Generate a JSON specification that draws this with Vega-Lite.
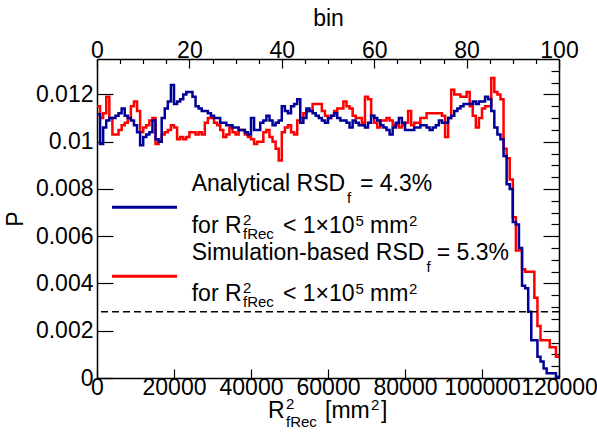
{
  "$schema": "https://vega.github.io/schema/vega-lite/v6.json",
  "width": 462,
  "height": 319,
  "autosize": {"type": "none"},
  "padding": {"left": 97, "top": 59, "right": 38, "bottom": 61},
  "background": "white",
  "config": {
    "view": {"stroke": null},
    "font": "Liberation Sans",
    "axis": {
      "domainColor": "black", "domainWidth": 1.5,
      "tickColor": "black", "tickWidth": 1.2,
      "labelFont": "Liberation Sans", "labelFontSize": 23, "labelColor": "black",
      "titleFont": "Liberation Sans", "titleFontSize": 23, "titleFontWeight": "normal", "titleColor": "black",
      "grid": false, "labelOverlap": false, "labelBound": false, "labelFlush": false
    }
  },
  "datasets": {
    "hist": [
      {"x":0,"b":0.01116,"r":0.0115},{"x":800,"b":0.0099,"r":0.0110},{"x":1600,"b":0.0106,"r":0.0112},{"x":2400,"b":0.0109,"r":0.0119},
      {"x":3200,"b":0.0110,"r":0.0110},{"x":4000,"b":0.0110,"r":0.0103},{"x":4800,"b":0.0111,"r":0.0103},{"x":5600,"b":0.0112,"r":0.0105},
      {"x":6400,"b":0.0114,"r":0.0107},{"x":7200,"b":0.0111,"r":0.0108},{"x":8000,"b":0.0110,"r":0.0110},{"x":8800,"b":0.0109,"r":0.0115},
      {"x":9600,"b":0.0107,"r":0.0117},{"x":10400,"b":0.0104,"r":0.0113},{"x":11200,"b":0.00985,"r":0.0104},{"x":12000,"b":0.0102,"r":0.0106},
      {"x":12800,"b":0.0103,"r":0.0107},{"x":13600,"b":0.0104,"r":0.0109},{"x":14400,"b":0.0109,"r":0.0110},{"x":15200,"b":0.0101,"r":0.0099},
      {"x":16000,"b":0.0100,"r":0.0100},{"x":16800,"b":0.0110,"r":0.0103},{"x":17600,"b":0.0114,"r":0.0104},{"x":18400,"b":0.0117,"r":0.0105},
      {"x":19200,"b":0.0124,"r":0.0107},{"x":20000,"b":0.0116,"r":0.0106},{"x":20800,"b":0.0117,"r":0.0101},{"x":21600,"b":0.0118,"r":0.0102},
      {"x":22400,"b":0.0120,"r":0.0101},{"x":23200,"b":0.0121,"r":0.0102},{"x":24000,"b":0.0121,"r":0.0104},{"x":24800,"b":0.0119,"r":0.0104},
      {"x":25600,"b":0.0115,"r":0.0103},{"x":26400,"b":0.0114,"r":0.0104},{"x":27200,"b":0.0113,"r":0.0103},{"x":28000,"b":0.0113,"r":0.0108},
      {"x":28800,"b":0.0112,"r":0.0110},{"x":29600,"b":0.0111,"r":0.0110},{"x":30400,"b":0.0110,"r":0.0108},{"x":31200,"b":0.0110,"r":0.0107},
      {"x":32000,"b":0.0108,"r":0.0105},{"x":32800,"b":0.0108,"r":0.0102},{"x":33600,"b":0.0107,"r":0.0103},{"x":34400,"b":0.0107,"r":0.0106},
      {"x":35200,"b":0.0106,"r":0.0104},{"x":36000,"b":0.0106,"r":0.0103},{"x":36800,"b":0.0105,"r":0.0105},{"x":37600,"b":0.0105,"r":0.0105},
      {"x":38400,"b":0.0104,"r":0.0103},{"x":39200,"b":0.0103,"r":0.0102},{"x":40000,"b":0.0110,"r":0.0101},{"x":40800,"b":0.0105,"r":0.0099},
      {"x":41600,"b":0.0105,"r":0.0100},{"x":42400,"b":0.0108,"r":0.0100},{"x":43200,"b":0.0109,"r":0.0104},{"x":44000,"b":0.0111,"r":0.0105},
      {"x":44800,"b":0.0109,"r":0.0102},{"x":45600,"b":0.0107,"r":0.0100},{"x":46400,"b":0.0108,"r":0.0097},{"x":47200,"b":0.0109,"r":0.0092},
      {"x":48000,"b":0.0115,"r":0.0104},{"x":48800,"b":0.0113,"r":0.0106},{"x":49600,"b":0.0112,"r":0.0107},{"x":50400,"b":0.0115,"r":0.0104},
      {"x":51200,"b":0.0116,"r":0.0103},{"x":52000,"b":0.0118,"r":0.0109},{"x":52800,"b":0.0108,"r":0.0110},{"x":53600,"b":0.0110,"r":0.0112},
      {"x":54400,"b":0.0114,"r":0.0113},{"x":55200,"b":0.0113,"r":0.0113},{"x":56000,"b":0.0112,"r":0.0116},{"x":56800,"b":0.0111,"r":0.0116},
      {"x":57600,"b":0.0110,"r":0.0116},{"x":58400,"b":0.0109,"r":0.0113},{"x":59200,"b":0.0108,"r":0.0111},{"x":60000,"b":0.0110,"r":0.0110},
      {"x":60800,"b":0.0111,"r":0.0111},{"x":61600,"b":0.0112,"r":0.0113},{"x":62400,"b":0.0110,"r":0.0114},{"x":63200,"b":0.0109,"r":0.0114},
      {"x":64000,"b":0.0109,"r":0.0117},{"x":64800,"b":0.0108,"r":0.0115},{"x":65600,"b":0.0106,"r":0.0114},{"x":66400,"b":0.0109,"r":0.0111},
      {"x":67200,"b":0.0108,"r":0.0110},{"x":68000,"b":0.0107,"r":0.0110},{"x":68800,"b":0.0107,"r":0.0108},{"x":69600,"b":0.0106,"r":0.0119},
      {"x":70400,"b":0.0108,"r":0.0118},{"x":71200,"b":0.0111,"r":0.0111},{"x":72000,"b":0.0110,"r":0.0108},{"x":72800,"b":0.0109,"r":0.0106},
      {"x":73600,"b":0.0107,"r":0.0109},{"x":74400,"b":0.0106,"r":0.0109},{"x":75200,"b":0.0105,"r":0.0110},{"x":76000,"b":0.0103,"r":0.0109},
      {"x":76800,"b":0.0106,"r":0.0107},{"x":77600,"b":0.0108,"r":0.0107},{"x":78400,"b":0.0110,"r":0.0106},{"x":79200,"b":0.0108,"r":0.0107},
      {"x":80000,"b":0.0105,"r":0.0108},{"x":80800,"b":0.0105,"r":0.0113},{"x":81600,"b":0.0105,"r":0.0107},{"x":82400,"b":0.0106,"r":0.0108},
      {"x":83200,"b":0.0106,"r":0.0108},{"x":84000,"b":0.0107,"r":0.0110},{"x":84800,"b":0.0107,"r":0.0110},{"x":85600,"b":0.0106,"r":0.0112},
      {"x":86400,"b":0.0105,"r":0.0112},{"x":87200,"b":0.0106,"r":0.0112},{"x":88000,"b":0.0107,"r":0.0112},{"x":88800,"b":0.0109,"r":0.0112},
      {"x":89600,"b":0.0108,"r":0.0111},{"x":90400,"b":0.0108,"r":0.0102},{"x":91200,"b":0.0110,"r":0.0110},{"x":92000,"b":0.0111,"r":0.0122},
      {"x":92800,"b":0.0113,"r":0.0120},{"x":93600,"b":0.0114,"r":0.0120},{"x":94400,"b":0.0115,"r":0.0119},{"x":95200,"b":0.0116,"r":0.0119},
      {"x":96000,"b":0.0116,"r":0.0121},{"x":96800,"b":0.0116,"r":0.0115},{"x":97600,"b":0.0117,"r":0.0111},{"x":98400,"b":0.0116,"r":0.0106},
      {"x":99200,"b":0.0117,"r":0.0110},{"x":100000,"b":0.0117,"r":0.0114},{"x":100800,"b":0.0119,"r":0.0115},{"x":101600,"b":0.0118,"r":0.0115},
      {"x":102400,"b":0.0113,"r":0.0127},{"x":103200,"b":0.0106,"r":0.0121},{"x":104000,"b":0.0103,"r":0.0120},{"x":104800,"b":0.0101,"r":0.0118},
      {"x":105600,"b":0.0094,"r":0.0097},{"x":106400,"b":0.0082,"r":0.0093},{"x":107200,"b":0.0080,"r":0.0084},{"x":108000,"b":0.0066,"r":0.0068},
      {"x":108800,"b":0.0065,"r":0.0054},{"x":109600,"b":0.0055,"r":0.0054},{"x":110400,"b":0.0039,"r":0.0046},{"x":111200,"b":0.0038,"r":0.0045},
      {"x":112000,"b":0.0028,"r":0.0045},{"x":112800,"b":0.0016,"r":0.0045},{"x":113600,"b":0.0016,"r":0.0034},{"x":114400,"b":0.0009,"r":0.0022},
      {"x":115200,"b":0.0007,"r":0.0016},{"x":116000,"b":0.0004,"r":0.0016},{"x":116800,"b":0.0002,"r":0.0016},{"x":117600,"b":0.0002,"r":0.0013},
      {"x":118400,"b":0.0002,"r":0.0013},{"x":119200,"b":0.00005,"r":0.0009},{"x":120000,"b":0.00005,"r":0.0009}
    ],
    "ref": [{"p": 0.0028}],
    "lines": [
      {"x": 3900, "x2": 20800, "y": 0.00723, "s": "b"},
      {"x": 3900, "x2": 20800, "y": 0.00431, "s": "r"}
    ],
    "big": [
      {"x": 24597, "y": 0.007907, "t": "Analytical RSD"},
      {"x": 68300, "y": 0.007907, "t": "= 4.3%"},
      {"x": 24597, "y": 0.006131, "t": "for R"},
      {"x": 48310, "y": 0.006131, "t": "< 1×10"},
      {"x": 70910, "y": 0.006131, "t": "mm"},
      {"x": 24597, "y": 0.004989, "t": "Simulation-based RSD"},
      {"x": 88230, "y": 0.004989, "t": "= 5.3%"},
      {"x": 24597, "y": 0.003256, "t": "for R"},
      {"x": 48310, "y": 0.003256, "t": "< 1×10"},
      {"x": 70910, "y": 0.003256, "t": "mm"},
      {"x": 44416, "y": -0.001691, "t": "R"},
      {"x": 59220, "y": -0.001691, "t": "[mm"},
      {"x": 73770, "y": -0.001691, "t": "]"}
    ],
    "small": [
      {"x": 64940, "y": 0.0074, "t": "f"},
      {"x": 37920, "y": 0.00648, "t": "2"},
      {"x": 37920, "y": 0.00588, "t": "fRec"},
      {"x": 67150, "y": 0.006434, "t": "5"},
      {"x": 81030, "y": 0.006434, "t": "2"},
      {"x": 85580, "y": 0.004482, "t": "f"},
      {"x": 37920, "y": 0.0036, "t": "2"},
      {"x": 37920, "y": 0.00300, "t": "fRec"},
      {"x": 67150, "y": 0.003552, "t": "5"},
      {"x": 81030, "y": 0.003552, "t": "2"},
      {"x": 49090, "y": -0.00131, "t": "2"},
      {"x": 49090, "y": -0.00209, "t": "fRec"},
      {"x": 71170, "y": -0.001353, "t": "2"}
    ],
    "top": [{"bin": 0, "v": 0}, {"bin": 100, "v": 0.0135}]
  },
  "layer": [
    {
      "layer": [
        {
          "data": {"name": "hist"},
          "mark": {"type": "line", "interpolate": "step-after", "color": "#ff0000", "strokeWidth": 2.5},
          "encoding": {
            "x": {
              "field": "x", "type": "quantitative",
              "scale": {"domain": [0, 120000], "nice": false, "zero": false},
              "axis": {
                "orient": "bottom", "title": null,
                "values": [0,5000,10000,15000,20000,25000,30000,35000,40000,45000,50000,55000,60000,65000,70000,75000,80000,85000,90000,95000,100000,105000,110000,115000,120000],
                "labelExpr": "datum.value % 20000 === 0 ? format(datum.value, 'd') : ''",
                "tickSize": {"condition": {"test": "datum.value % 20000 === 0", "value": -9}, "value": -4.5},
                "labelPadding": 7
              }
            },
            "y": {
              "field": "r", "type": "quantitative",
              "scale": {"domain": [0, 0.0135], "nice": false, "zero": false},
              "axis": {
                "orient": "left", "title": "P", "titlePadding": 8,
                "values": [0,0.0005,0.001,0.0015,0.002,0.0025,0.003,0.0035,0.004,0.0045,0.005,0.0055,0.006,0.0065,0.007,0.0075,0.008,0.0085,0.009,0.0095,0.01,0.0105,0.011,0.0115,0.012,0.0125,0.013],
                "labelExpr": "abs(datum.value/0.002 - round(datum.value/0.002)) < 0.001 ? format(datum.value, '~g') : ''",
                "tickSize": {"condition": {"test": "abs(datum.value/0.002 - round(datum.value/0.002)) < 0.001", "value": -16}, "value": -8},
                "labelPadding": 20
              }
            }
          }
        },
        {
          "data": {"name": "hist"},
          "mark": {"type": "line", "interpolate": "step-after", "color": "#000099", "strokeWidth": 2.5},
          "encoding": {
            "x": {"field": "x", "type": "quantitative"},
            "y": {"field": "b", "type": "quantitative"}
          }
        },
        {
          "data": {"name": "ref"},
          "mark": {"type": "rule", "strokeDash": [7, 4], "strokeWidth": 1.5, "color": "black"},
          "encoding": {"y": {"field": "p", "type": "quantitative"}}
        },
        {
          "data": {"name": "lines"},
          "mark": {"type": "rule", "strokeWidth": 3},
          "encoding": {
            "x": {"field": "x", "type": "quantitative"},
            "x2": {"field": "x2"},
            "y": {"field": "y", "type": "quantitative"},
            "color": {"field": "s", "type": "nominal", "scale": {"domain": ["b", "r"], "range": ["#000099", "#ff0000"]}, "legend": null}
          }
        },
        {
          "data": {"name": "big"},
          "mark": {"type": "text", "align": "left", "baseline": "alphabetic", "font": "Liberation Sans", "fontSize": 23, "color": "black"},
          "encoding": {
            "x": {"field": "x", "type": "quantitative"},
            "y": {"field": "y", "type": "quantitative"},
            "text": {"field": "t"}
          }
        },
        {
          "data": {"name": "small"},
          "mark": {"type": "text", "align": "left", "baseline": "alphabetic", "font": "Liberation Sans", "fontSize": 15, "color": "black"},
          "encoding": {
            "x": {"field": "x", "type": "quantitative"},
            "y": {"field": "y", "type": "quantitative"},
            "text": {"field": "t"}
          }
        }
      ]
    },
    {
      "data": {"name": "top"},
      "mark": {"type": "point", "opacity": 0},
      "encoding": {
        "x": {
          "field": "bin", "type": "quantitative",
          "scale": {"domain": [0, 100], "nice": false, "zero": false},
          "axis": {
            "orient": "top", "title": "bin", "titlePadding": 4,
            "values": [0,5,10,15,20,25,30,35,40,45,50,55,60,65,70,75,80,85,90,95,100],
            "labelExpr": "datum.value % 20 === 0 ? format(datum.value, 'd') : ''",
            "tickSize": {"condition": {"test": "datum.value % 20 === 0", "value": -9}, "value": -4.5},
            "labelPadding": 6
          }
        },
        "y": {
          "field": "v", "type": "quantitative",
          "scale": {"domain": [0, 0.0135], "nice": false, "zero": false},
          "axis": {
            "orient": "right", "title": null, "labels": false,
            "values": [0,0.0005,0.001,0.0015,0.002,0.0025,0.003,0.0035,0.004,0.0045,0.005,0.0055,0.006,0.0065,0.007,0.0075,0.008,0.0085,0.009,0.0095,0.01,0.0105,0.011,0.0115,0.012,0.0125,0.013],
            "tickSize": {"condition": {"test": "abs(datum.value/0.002 - round(datum.value/0.002)) < 0.001", "value": -16}, "value": -8}
          }
        }
      }
    }
  ],
  "resolve": {"scale": {"x": "independent", "y": "independent"}}
}
